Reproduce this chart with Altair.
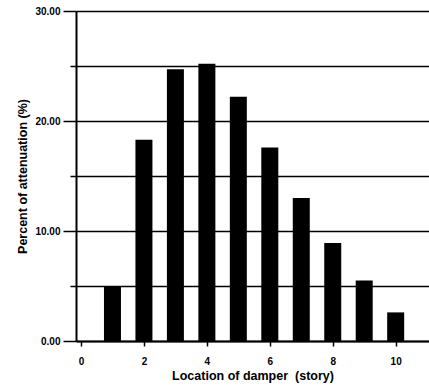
import altair as alt
import pandas as pd

stories = [1, 2, 3, 4, 5, 6, 7, 8, 9, 10]
attenuation = [5.0, 18.3, 24.7, 25.2, 22.2, 17.6, 13.0, 8.9, 5.5, 2.6]
y_ticks = [0, 5, 10, 15, 20, 25, 30]
x_ticks = [0, 2, 4, 6, 8, 10]

df = pd.DataFrame({"story": stories, "att": attenuation})

FONT = "Liberation Sans"

chart = alt.Chart(df).mark_bar(color="black", width=17).encode(
    x=alt.X(
        "story:Q",
        scale=alt.Scale(domain=[0, 10.9], nice=False, zero=True),
        axis=alt.Axis(
            values=x_ticks, title="Location of damper\u00a0 (story)", grid=False,
            format="d", labelFlush=False, tickSize=5, tickColor="black", tickWidth=1.5,
            domainColor="black", domainWidth=2, labelPadding=10,
            labelFont=FONT, labelFontWeight="bold", labelFontSize=10, labelColor="black",
            titleFont=FONT, titleFontWeight="bold", titleFontSize=12.5, titleColor="black",
            titlePadding=3,
        ),
    ),
    y=alt.Y(
        "att:Q",
        scale=alt.Scale(domain=[0, 30], nice=False),
        axis=alt.Axis(
            values=y_ticks, title="Percent of attenuation (%)",
            labelExpr="datum.value % 10 === 0 ? format(datum.value, '.2f') : ''",
            grid=True, gridColor="black", gridWidth=1.3,
            tickColor="black", tickWidth=1.5,
            tickSize={"condition": {"test": "datum.value % 10 === 0", "value": 13}, "value": 6},
            domainColor="black", domainWidth=2, labelPadding=3,
            labelFont=FONT, labelFontWeight="bold", labelFontSize=10, labelColor="black",
            titleFont=FONT, titleFontWeight="bold", titleFontSize=12.5, titleColor="black",
            titlePadding=5,
        ),
    ),
).properties(
    width=353, height=330,
    autosize="none",
    padding={"left": 76, "top": 11, "right": 0, "bottom": 47},
).configure_view(stroke=None).configure(background="white")

chart.save("out.html", embed_options={"renderer": "svg", "actions": False})
